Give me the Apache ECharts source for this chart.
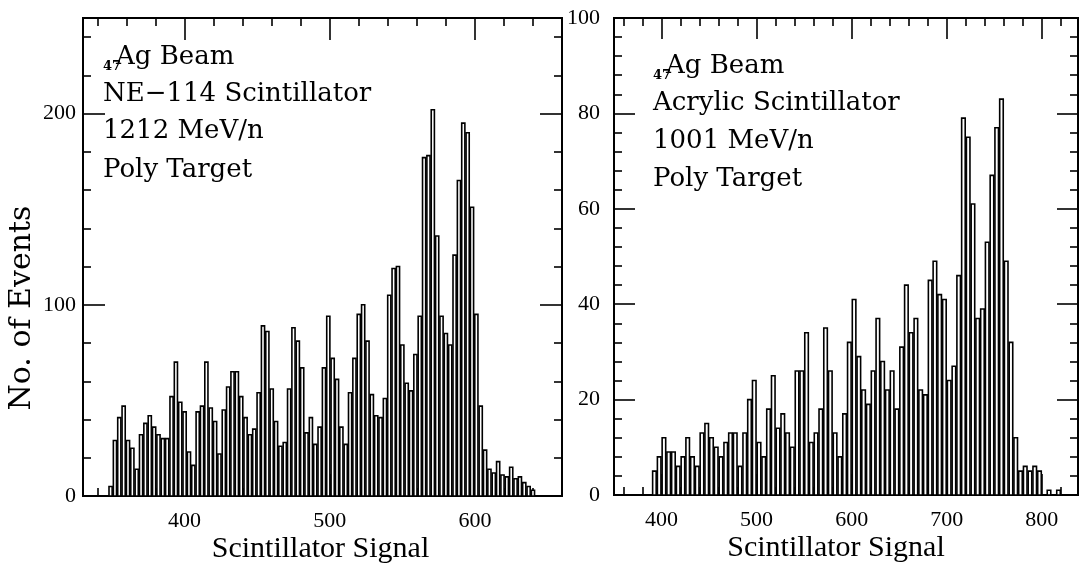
<!DOCTYPE html>
<html>
<head>
<meta charset="utf-8">
<script src="https://cdn.jsdelivr.net/npm/echarts@6/dist/echarts.min.js"></script>
<style>
  html, body { margin: 0; padding: 0; background: #fff; }
  #chart { width: 1080px; height: 563px; }
</style>
</head>
<body>
<div id="chart"></div>
<script>
// NE-114 scintillator, 1212 MeV/n: bins 3 wide from 347.5
const leftBinStart = 347.5;
const leftBinWidth = 3;
const leftCounts = [
  5, 29, 41, 47, 29, 25, 14, 32, 38, 42, 36, 32, 30, 30, 52, 70, 49, 44, 23, 16, 44, 47, 70,
  46, 39, 22, 45, 57, 65, 65, 52, 41, 32, 35, 54, 89, 86, 56, 39, 26, 28, 56, 88, 81, 67, 33, 41, 27, 36,
  67, 94, 72, 61, 36, 27, 54, 72, 95, 100, 81, 53, 42, 41, 51, 105, 119, 120, 79, 59, 55, 74, 94, 177, 178,
  202, 136, 94, 85, 79, 126, 165, 195, 190, 151, 95, 47, 24, 14, 12, 18, 11, 10, 15, 9, 10, 7, 5, 3
];

// Acrylic scintillator, 1001 MeV/n: bins 5 wide from 390
const rightBinStart = 390;
const rightBinWidth = 5;
const rightCounts = [
  5, 8, 12, 9, 9, 6, 8, 12, 8, 6,
  13, 15, 12, 10, 8, 11, 13, 13, 6, 13,
  20, 24, 11, 8, 18, 25, 14, 17, 13, 10,
  26, 26, 34, 11, 13, 18, 35, 26, 13, 8,
  17, 32, 41, 29, 22, 19, 26, 37, 28, 22,
  26, 18, 31, 44, 34, 37, 22, 21, 45, 49,
  42, 41, 24, 27, 46, 79, 75, 61, 37, 39,
  53, 67, 77, 83, 49, 32, 12, 5, 6, 5,
  6, 5, 0, 1, 0, 1
];

// axis ticks and labels
const leftXMajor = [400, 500, 600];
const leftXMinor = [340, 360, 380, 420, 440, 460, 480, 520, 540, 560, 580, 620, 640];
const leftYMajor = [100, 200];
const leftYLabels = [0, 100, 200];
const leftYMinor = [20, 40, 60, 80, 120, 140, 160, 180, 220, 240];

const rightXMajor = [400, 500, 600, 700, 800];
const rightXMinor = [360, 380, 420, 440, 460, 480, 520, 540, 560, 580, 620, 640, 660, 680, 720, 740, 760, 780, 820];
const rightYMajor = [20, 40, 60, 80];
const rightYLabels = [0, 20, 40, 60, 80, 100];
const rightYMinor = [4, 8, 12, 16, 24, 28, 32, 36, 44, 48, 52, 56, 64, 68, 72, 76, 84, 88, 92, 96];

const serif = 'Liberation Serif';
const noteFont = '26px "DejaVu Serif"';
const subFont = 'bold 13px "DejaVu Serif"';

function toBins(start, width, counts) {
  return counts.map((c, i) => [start + i * width, start + (i + 1) * width, c]);
}

function histItem(params, api) {
  const top = api.coord([api.value(0), api.value(2)]);
  const base = api.coord([api.value(1), 0]);
  return {
    type: 'rect',
    shape: { x: top[0] + 0.6, y: top[1], width: base[0] - top[0] - 1.2, height: base[1] - top[1] },
    style: { fill: '#fff', stroke: '#000', lineWidth: 1.6 }
  };
}

function sideAxis(grid, pos, min, max, ticks, len, extra) {
  return Object.assign({
    type: 'value',
    gridIndex: grid,
    position: pos,
    min: min,
    max: max,
    axisLine: { show: true, onZero: false, lineStyle: { color: '#000', width: 2 } },
    axisTick: { show: true, inside: true, length: len, customValues: ticks, lineStyle: { color: '#000', width: 1.6 } },
    axisLabel: { show: false },
    splitLine: { show: false }
  }, extra || {});
}

function label(values, margin) {
  return { show: true, customValues: values, color: '#000', fontFamily: serif, fontSize: 22, margin: margin };
}

function xName(shift) {
  return {
    name: 'Scintillator Signal',
    nameLocation: 'middle',
    nameGap: 38,
    nameMoveOverlap: false,
    nameTextStyle: { color: '#000', fontFamily: serif, fontSize: 30, padding: [0, shift, 0, 0] }
  };
}

function note(x, y, text, font) {
  return { type: 'text', x: x, y: y, style: { text: text, font: font || noteFont, fill: '#000', verticalAlign: 'middle' } };
}

const chart = echarts.init(document.getElementById('chart'));

chart.setOption({
  animation: false,
  backgroundColor: '#fff',
  grid: [
    { left: 83, top: 18, width: 479, height: 478, outerBoundsMode: 'none', containLabel: false },
    { left: 614, top: 18, width: 464, height: 477, outerBoundsMode: 'none', containLabel: false }
  ],
  xAxis: [
    sideAxis(0, 'bottom', 330, 660, leftXMajor, 22, Object.assign({ axisLabel: label(leftXMajor, 14) }, xName(4))),
    sideAxis(0, 'top', 330, 660, leftXMajor, 22),
    sideAxis(0, 'bottom', 330, 660, leftXMinor, 8),
    sideAxis(0, 'top', 330, 660, leftXMinor, 8),
    sideAxis(1, 'bottom', 350, 838, rightXMajor, 21, Object.assign({ axisLabel: label(rightXMajor, 14) }, xName(20))),
    sideAxis(1, 'top', 350, 838, rightXMajor, 21),
    sideAxis(1, 'bottom', 350, 838, rightXMinor, 8),
    sideAxis(1, 'top', 350, 838, rightXMinor, 8)
  ],
  yAxis: [
    sideAxis(0, 'left', 0, 250, leftYMajor, 22, { axisLabel: label(leftYLabels, 7) }),
    sideAxis(0, 'right', 0, 250, leftYMajor, 22),
    sideAxis(0, 'left', 0, 250, leftYMinor, 8),
    sideAxis(0, 'right', 0, 250, leftYMinor, 8),
    sideAxis(1, 'left', 0, 100, rightYMajor, 21, { axisLabel: label(rightYLabels, 14) }),
    sideAxis(1, 'right', 0, 100, rightYMajor, 21),
    sideAxis(1, 'left', 0, 100, rightYMinor, 8),
    sideAxis(1, 'right', 0, 100, rightYMinor, 8)
  ],
  series: [
    {
      type: 'custom',
      xAxisIndex: 0,
      yAxisIndex: 0,
      renderItem: histItem,
      encode: { x: [0, 1], y: 2 },
      data: toBins(leftBinStart, leftBinWidth, leftCounts)
    },
    {
      type: 'custom',
      xAxisIndex: 4,
      yAxisIndex: 4,
      renderItem: histItem,
      encode: { x: [0, 1], y: 2 },
      data: toBins(rightBinStart, rightBinWidth, rightCounts)
    }
  ],
  graphic: [
    // left panel notes
    note(103, 67, '47', subFont),
    note(116, 57, 'Ag Beam'),
    note(103, 94, 'NE\u2212114 Scintillator'),
    note(103, 131, '1212 MeV/n'),
    note(103, 170, 'Poly Target'),
    // right panel notes
    note(653, 76, '47', subFont),
    note(666, 66, 'Ag Beam'),
    note(653, 103, 'Acrylic Scintillator'),
    note(653, 141, '1001 MeV/n'),
    note(653, 179, 'Poly Target'),
    // y title
    { type: 'text', x: 22, y: 308, rotation: Math.PI / 2, style: { text: 'No. of Events', font: '30px "DejaVu Serif"', fill: '#000', align: 'center', verticalAlign: 'middle' } }
  ]
});
</script>
</body>
</html>
